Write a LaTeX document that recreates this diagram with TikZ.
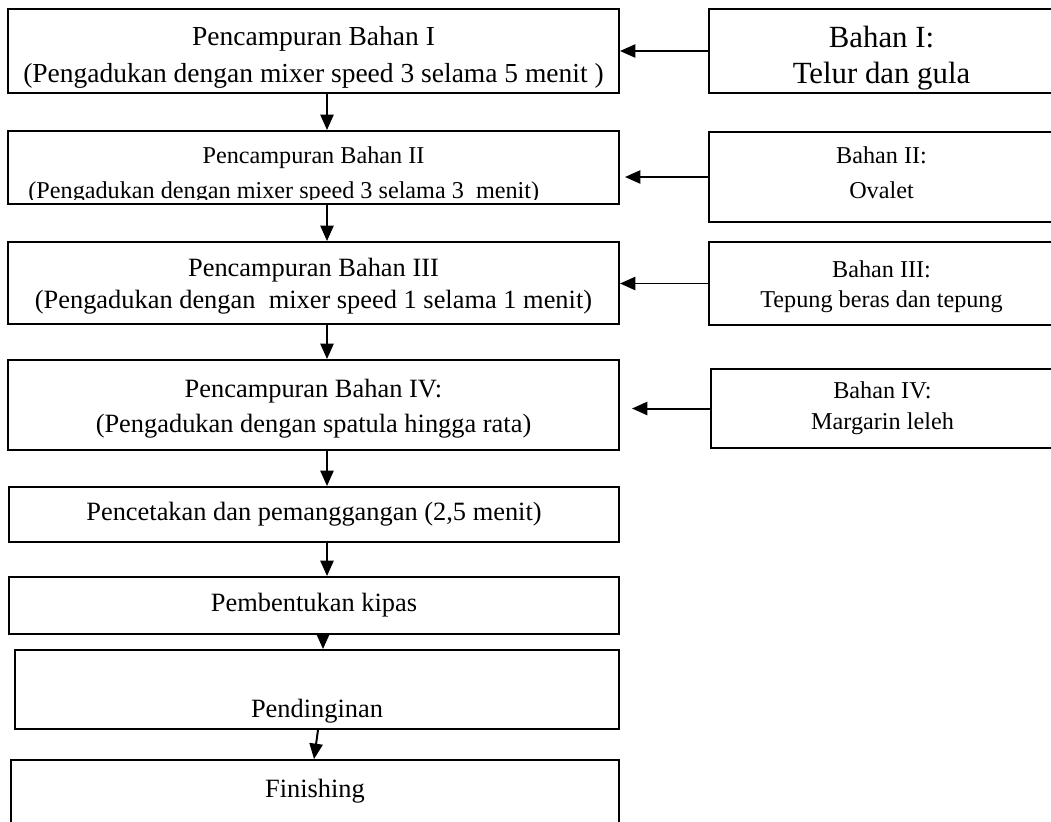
\documentclass[tikz,border=0pt]{standalone}
\usepackage{fontspec}
\setmainfont{Liberation Serif}
\usetikzlibrary{arrows.meta,calc}

\newcommand{\pxu}{0.4545pt}

\tikzset{
  box/.style={draw,line width=0.9pt,align=center,inner sep=0pt},
  mainbox/.style={box,minimum width=611*\pxu},
  sidebox/.style={box,minimum width=345*\pxu},
}

\begin{document}
\begin{tikzpicture}[x=\pxu,y=-\pxu,line width=0.9pt,>={Triangle[length=7pt,width=6pt]}]
  \useasboundingbox (0,0) rectangle (1051,821);
  \clip (0,0) rectangle (1051,821);
  \node[mainbox,minimum height=84*\pxu,font=\fontsize{12.5}{16.4}\selectfont] (mix1) at (313.5,51)
    {\rule{0pt}{14.5pt}Pencampuran Bahan I\\(Pengadukan dengan mixer speed 3 selama 5 menit )};
  \node[mainbox,minimum height=73*\pxu] (mix2) at (313.5,167.5) {};
  \begin{scope}
    \clip (mix2.north west) rectangle ($(mix2.south east)+(0,-5)$);
    \node[align=center,font=\fontsize{11}{16}\selectfont] (mix2txt) at (313.5,175)
      {Pencampuran Bahan II\\(Pengadukan dengan mixer speed 3 selama 3\ \ menit)\hspace*{27pt}};
  \end{scope}
  \node[mainbox,minimum height=82*\pxu,font=\fontsize{12}{14.5}\selectfont] (mix3) at (313.5,283)
    {\rule{0pt}{11pt}Pencampuran Bahan III\\(Pengadukan dengan\ \ mixer speed 1 selama 1 menit)};
  \node[mainbox,minimum height=90*\pxu,font=\fontsize{12}{16}\selectfont] (mix4) at (313.5,405)
    {\rule{0pt}{12pt}Pencampuran Bahan IV:\\(Pengadukan dengan spatula hingga rata)};
  \node[box,minimum width=610*\pxu,minimum height=55*\pxu,font=\fontsize{12}{14}\selectfont] (cetak) at (314,514.5)
    {Pencetakan dan pemanggangan (2,5 menit)};
  \node[box,minimum width=610*\pxu,minimum height=57*\pxu,font=\fontsize{12}{14}\selectfont] (kipas) at (314,605.5)
    {Pembentukan kipas};
  \node[box,minimum width=604*\pxu,minimum height=79*\pxu,font=\fontsize{12}{14}\selectfont,
        text height=28pt,text depth=3pt] (dingin) at (317,689.5) {Pendinginan};
  \node[box,minimum width=608*\pxu,minimum height=160*\pxu,font=\fontsize{12}{14}\selectfont,
        text height=8pt,text depth=47pt] (finish) at (315,840) {Finishing};

  \node[sidebox,minimum height=84*\pxu,font=\fontsize{14}{16.4}\selectfont] (bahan1) at (881.5,51)
    {\rule{0pt}{16pt}Bahan I:\\Telur dan gula};
  \node[sidebox,minimum height=90*\pxu,font=\fontsize{11}{16}\selectfont] (bahan2) at (881.5,177)
    {Bahan II:\\Ovalet\rule[-4pt]{0pt}{4pt}};
  \node[sidebox,minimum height=83*\pxu,font=\fontsize{11}{13.6}\selectfont] (bahan3) at (881.5,283.5)
    {\rule{0pt}{10.5pt}Bahan III:\\Tepung beras dan tepung};
  \node[box,minimum width=343*\pxu,minimum height=79*\pxu,font=\fontsize{11}{14}\selectfont] (bahan4) at (882.5,408.5)
    {Bahan IV:\\Margarin leleh};

  \coordinate (spine) at (327,0);
  \draw[->] (mix1.south -| spine) -- (mix2.north -| spine);
  \draw[->] (mix2.south -| spine) -- (mix3.north -| spine);
  \draw[->] (mix3.south -| spine) -- (mix4.north -| spine);
  \draw[->] (mix4.south -| spine) -- (cetak.north -| spine);
  \draw[->] (cetak.south -| spine) -- (kipas.north -| spine);
  \draw[->] ($(kipas.south)+(9,0)$) -- ($(dingin.north)+(6,0)$);
  \draw[->] ($(dingin.south)+(1,0)$) -- ($(finish.north)+(-1,0)$);

  \draw[->] (bahan1.west) -- (mix1.east);
  \draw[->] (bahan2.west) -- ($(mix2.east |- bahan2.west)+(5,0)$);
  \draw[->] (bahan3.west) -- (mix3.east |- bahan3.west);
  \draw[->] (bahan4.west) -- ($(mix4.east |- bahan4.west)+(12,0)$);
\end{tikzpicture}
\end{document}
